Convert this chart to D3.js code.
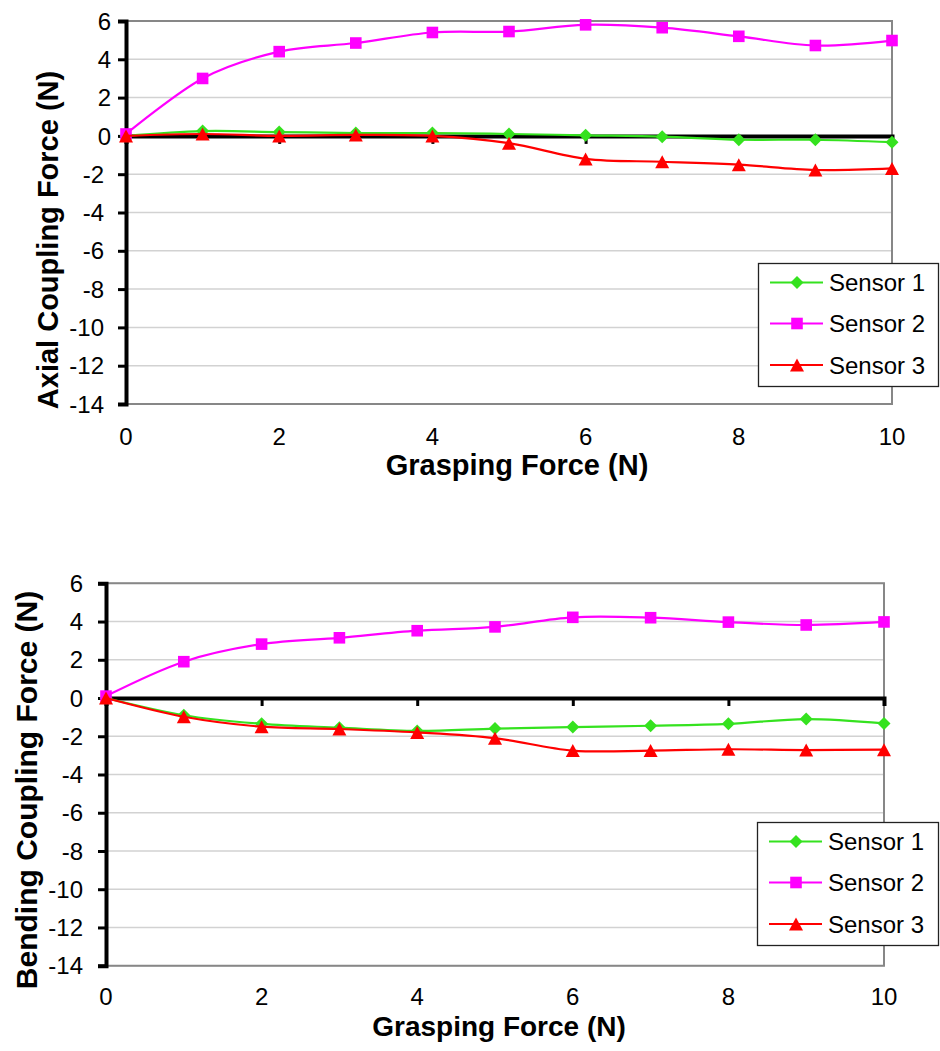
<!DOCTYPE html>
<html>
<head>
<meta charset="utf-8">
<script src="https://cdn.jsdelivr.net/npm/d3@7"></script>
<style>
  html, body { margin: 0; padding: 0; background: #fff; }
  svg { display: block; font-family: Arial, "Liberation Sans", sans-serif; }
</style>
</head>
<body>
<svg id="chart" width="940" height="1051"></svg>
<script>
// Grasping force steps (N)
const graspingForce = [0, 1, 2, 3, 4, 5, 6, 7, 8, 9, 10];

// Axial coupling force (N) per sensor
const axialSensor1 = [0, 0.25, 0.2, 0.15, 0.15, 0.1, 0.03, -0.04, -0.2, -0.2, -0.33];
const axialSensor2 = [0.1, 3.0, 4.4, 4.85, 5.4, 5.45, 5.8, 5.65, 5.2, 4.72, 4.98];
const axialSensor3 = [0, 0.1, 0.0, 0.05, 0.0, -0.38, -1.2, -1.35, -1.5, -1.78, -1.7];

// Bending coupling force (N) per sensor
const bendingSensor1 = [0, -0.9, -1.35, -1.55, -1.72, -1.6, -1.52, -1.45, -1.35, -1.1, -1.33];
const bendingSensor2 = [0.1, 1.9, 2.82, 3.15, 3.52, 3.72, 4.22, 4.2, 3.97, 3.82, 3.98];
const bendingSensor3 = [0, -0.98, -1.5, -1.62, -1.8, -2.1, -2.75, -2.75, -2.68, -2.72, -2.7];

// Axis ticks and legend names
const xTickValues = [0, 2, 4, 6, 8, 10];
const yTickValues = [6, 4, 2, 0, -2, -4, -6, -8, -10, -12, -14];
const seriesNames = ["Sensor 1", "Sensor 2", "Sensor 3"];
const seriesColors = ["#35e21f", "#ff00ff", "#ff0000"];
const seriesMarkers = ["diamond", "square", "triangle"];

const svg = d3.select("#chart");
svg.append("rect").attr("width", 940).attr("height", 1051).attr("fill", "#fff");

// Marker outlines centred on the data point
function markerPath(kind) {
  if (kind === "diamond") {
    const r = 6.5;
    return `M0,${-r}L${r},0L0,${r}L${-r},0Z`;
  }
  if (kind === "square") {
    const h = 5.8;
    return `M${-h},${-h}H${h}V${h}H${-h}Z`;
  }
  const w = 7, h = 6.5;
  return `M0,${-h}L${w},${h}L${-w},${h}Z`;
}

const panels = [
  {
    series: [axialSensor1, axialSensor2, axialSensor3],
    yTitle: "Axial Coupling Force (N)",
    yTitleSize: 29,
    xTitleSize: 29,
    plot: { left: 126, right: 892, top: 21, bottom: 404 },
    yLabelRight: 111, yLabelRightNeg: 104,
    xLabelBaseline: 445,
    xTitle: { x: 517, y: 475 },
    yTitleAt: { x: 58, y: 240 },
    legend: { left: 758, top: 263, width: 181, height: 124 }
  },
  {
    series: [bendingSensor1, bendingSensor2, bendingSensor3],
    yTitle: "Bending Coupling Force (N)",
    yTitleSize: 30,
    xTitleSize: 28,
    plot: { left: 106, right: 884, top: 583.3, bottom: 965.7 },
    yLabelRight: 83, yLabelRightNeg: 83,
    xLabelBaseline: 1005,
    xTitle: { x: 499, y: 1036 },
    yTitleAt: { x: 37, y: 790 },
    legend: { left: 757, top: 822, width: 182, height: 124 }
  }
];

panels.forEach(p => {
  const g = svg.append("g");
  const x = d3.scaleLinear().domain([0, 10]).range([p.plot.left, p.plot.right]);
  const y = d3.scaleLinear().domain([-14, 6]).range([p.plot.bottom, p.plot.top]);

  // horizontal gridlines
  g.append("g").selectAll("line").data(yTickValues).join("line")
    .attr("x1", x(0)).attr("x2", x(10))
    .attr("y1", d => y(d)).attr("y2", d => y(d))
    .attr("stroke", "#d2d2d2").attr("stroke-width", 1.5);

  // plot area frame (top, right, bottom)
  g.append("path")
    .attr("d", `M${x(0)},${y(6)}H${x(10)}V${y(-14)}H${x(0)}`)
    .attr("fill", "none").attr("stroke", "#878787").attr("stroke-width", 2);

  // horizontal axis crossing at zero, ticks hanging below
  const xAxis = d3.axisBottom(x).tickValues(xTickValues).tickSize(8).tickFormat("");
  const xg = g.append("g").attr("transform", `translate(0,${y(0)})`).call(xAxis);
  xg.select(".domain").attr("stroke", "#000").attr("stroke-width", 4);
  xg.selectAll(".tick line").attr("stroke", "#000").attr("stroke-width", 3);

  // x tick labels along the bottom of the plot
  g.append("g").selectAll("text").data(xTickValues).join("text")
    .attr("x", d => x(d)).attr("y", p.xLabelBaseline)
    .attr("text-anchor", "middle").attr("font-size", 24).attr("fill", "#000")
    .text(d => d);

  // vertical axis
  const yAxis = d3.axisLeft(y).tickValues(yTickValues).tickSize(8).tickFormat("");
  const yg = g.append("g").attr("transform", `translate(${x(0)},0)`).call(yAxis);
  yg.select(".domain").attr("stroke", "#000").attr("stroke-width", 4);
  yg.selectAll(".tick line").attr("stroke", "#000").attr("stroke-width", 3);

  g.append("g").selectAll("text").data(yTickValues).join("text")
    .attr("x", d => d < 0 ? p.yLabelRightNeg : p.yLabelRight)
    .attr("y", d => y(d)).attr("dy", "0.36em")
    .attr("text-anchor", "end").attr("font-size", 24).attr("fill", "#000")
    .text(d => d);

  // axis titles
  g.append("text")
    .attr("x", p.xTitle.x).attr("y", p.xTitle.y)
    .attr("text-anchor", "middle").attr("font-size", p.xTitleSize).attr("font-weight", "bold")
    .text("Grasping Force (N)");
  g.append("text")
    .attr("transform", `translate(${p.yTitleAt.x},${p.yTitleAt.y}) rotate(-90)`)
    .attr("text-anchor", "middle").attr("font-size", p.yTitleSize).attr("font-weight", "bold")
    .text(p.yTitle);

  // smoothed series with markers
  const line = d3.line()
    .x((d, i) => x(graspingForce[i]))
    .y(d => y(d))
    .curve(d3.curveCatmullRom.alpha(0));

  p.series.forEach((vals, si) => {
    const sg = g.append("g");
    sg.append("path").attr("d", line(vals))
      .attr("fill", "none").attr("stroke", seriesColors[si]).attr("stroke-width", 2.2);
    sg.selectAll("path.mk").data(vals).join("path").attr("class", "mk")
      .attr("transform", (d, i) => `translate(${x(graspingForce[i])},${y(d)})`)
      .attr("d", markerPath(seriesMarkers[si]))
      .attr("fill", seriesColors[si]);
  });

  // legend
  const L = p.legend;
  const lg = g.append("g").attr("transform", `translate(${L.left},${L.top})`);
  lg.append("rect").attr("x", 0.5).attr("y", 0.5)
    .attr("width", L.width - 1).attr("height", L.height - 1)
    .attr("fill", "#fff").attr("stroke", "#222").attr("stroke-width", 1.3);
  const rowY = [19.5, 60.5, 102];
  seriesNames.forEach((name, si) => {
    const row = lg.append("g").attr("transform", `translate(0,${rowY[si]})`);
    row.append("line").attr("x1", 12).attr("x2", 65).attr("y1", 0).attr("y2", 0)
      .attr("stroke", seriesColors[si]).attr("stroke-width", 2.2);
    row.append("path").attr("transform", "translate(39,0)")
      .attr("d", markerPath(seriesMarkers[si])).attr("fill", seriesColors[si]);
    row.append("text").attr("x", 71).attr("y", 0).attr("dy", "0.36em")
      .attr("font-size", 24).attr("fill", "#000").text(name);
  });
});
</script>
</body>
</html>
